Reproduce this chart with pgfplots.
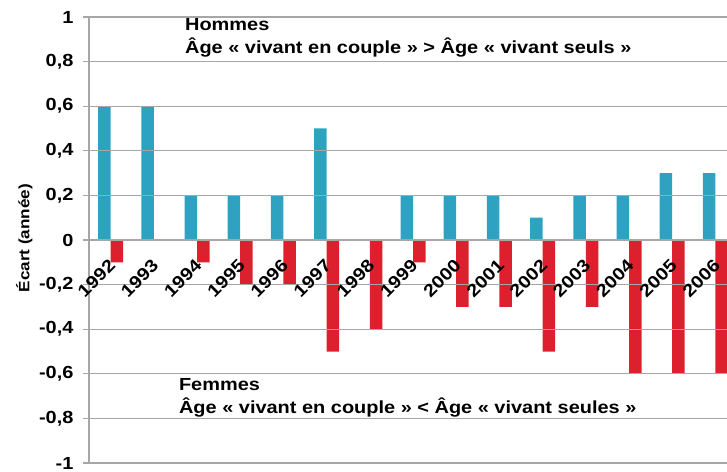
\documentclass[border=0pt]{standalone}
\usepackage{pgfplots}
\pgfplotsset{compat=1.18}
\usepackage{pgfplotstable}
\usepackage{fontspec}
\setmainfont{Liberation Sans}[FakeStretch=1.14]
\definecolor{hblue}{RGB}{46,163,193}
\definecolor{fred}{RGB}{221,32,45}
\definecolor{gridgray}{RGB}{166,166,166}
\pgfplotsset{
  layers/mylayers/.define layer set={axis background,axis grid,pre main,main,axis ticks,axis lines,axis tick labels,axis descriptions,axis foreground}{},
}
\pgfplotstableread{
x h f
0 0.6 -0.1
1 0.6 0
2 0.2 -0.1
3 0.2 -0.2
4 0.2 -0.2
5 0.5 -0.5
6 0 -0.4
7 0.2 -0.1
8 0.2 -0.3
9 0.2 -0.3
10 0.1 -0.5
11 0.2 -0.3
12 0.2 -0.6
13 0.3 -0.6
14 0.3 -0.6
}\data
\begin{document}
\begin{tikzpicture}
\begin{axis}[
  set layers=mylayers,
  at={(89pt,8pt)}, anchor=south west,
  scale only axis, width=648pt, height=446pt,
  xmin=-0.5, xmax=14.5, ymin=-1, ymax=1,
  axis y line=left, axis x line=middle,
  axis line style={-, draw=gridgray, line width=1.2pt},
  ybar=0pt, bar width=12.5pt,
  ytick={-1,-0.8,-0.6,-0.4,-0.2,0,0.2,0.4,0.6,0.8,1},
  yticklabels={-1,{-0,8},{-0,6},{-0,4},{-0,2},0,{0,2},{0,4},{0,6},{0,8},1},
  ymajorgrids, grid style={gridgray, line width=1.2pt},
  ytick align=outside,
  ytick style={gridgray, line width=1.2pt},
  major tick length=6pt, minor tick length=6pt,
  yticklabel style={font=\bfseries\fontsize{17.5}{18}\selectfont, xshift=-6pt},
  xtick={0,1,2,3,4,5,6,7,8,9,10,11,12,13,14},
  xticklabels={1992,1993,1994,1995,1996,1997,1998,1999,2000,2001,2002,2003,2004,2005,2006},
  xtick style={draw=none},
  minor xtick={-0.5,0.5,1.5,2.5,3.5,4.5,5.5,6.5,7.5,8.5,9.5,10.5,11.5,12.5,13.5,14.5},
  minor x tick style={gridgray, line width=1.2pt},
  xtick align=outside,
  xticklabel style={font=\bfseries\fontsize{17.5}{18}\selectfont, yshift=-14pt, xshift=4pt, rotate=45, anchor=east},
  ylabel={Écart (année)},
  every axis y label/.style={at={(axis description cs:-0.1,0.504)}, rotate=90, anchor=center, font=\bfseries\fontsize{15}{16}\selectfont},
]
\addplot[fill=hblue, draw=none, on layer=pre main] table[x=x,y=h] {\data};
\addplot[fill=fred, draw=none, on layer=pre main] table[x=x,y=f] {\data};
\node[anchor=north west, align=left, inner sep=0pt, font=\bfseries\fontsize{17.5}{23}\selectfont] at (axis cs:1.72,0.995) {Hommes\\Âge « vivant en couple » > Âge « vivant seuls »};
\node[anchor=north west, align=left, inner sep=0pt, font=\bfseries\fontsize{17.5}{23}\selectfont] at (axis cs:1.58,-0.622) {Femmes\\Âge « vivant en couple » < Âge « vivant seules »};
\end{axis}
\pgfresetboundingbox
\path[use as bounding box] (0,0) rectangle (727pt,471pt);
\end{tikzpicture}
\end{document}
